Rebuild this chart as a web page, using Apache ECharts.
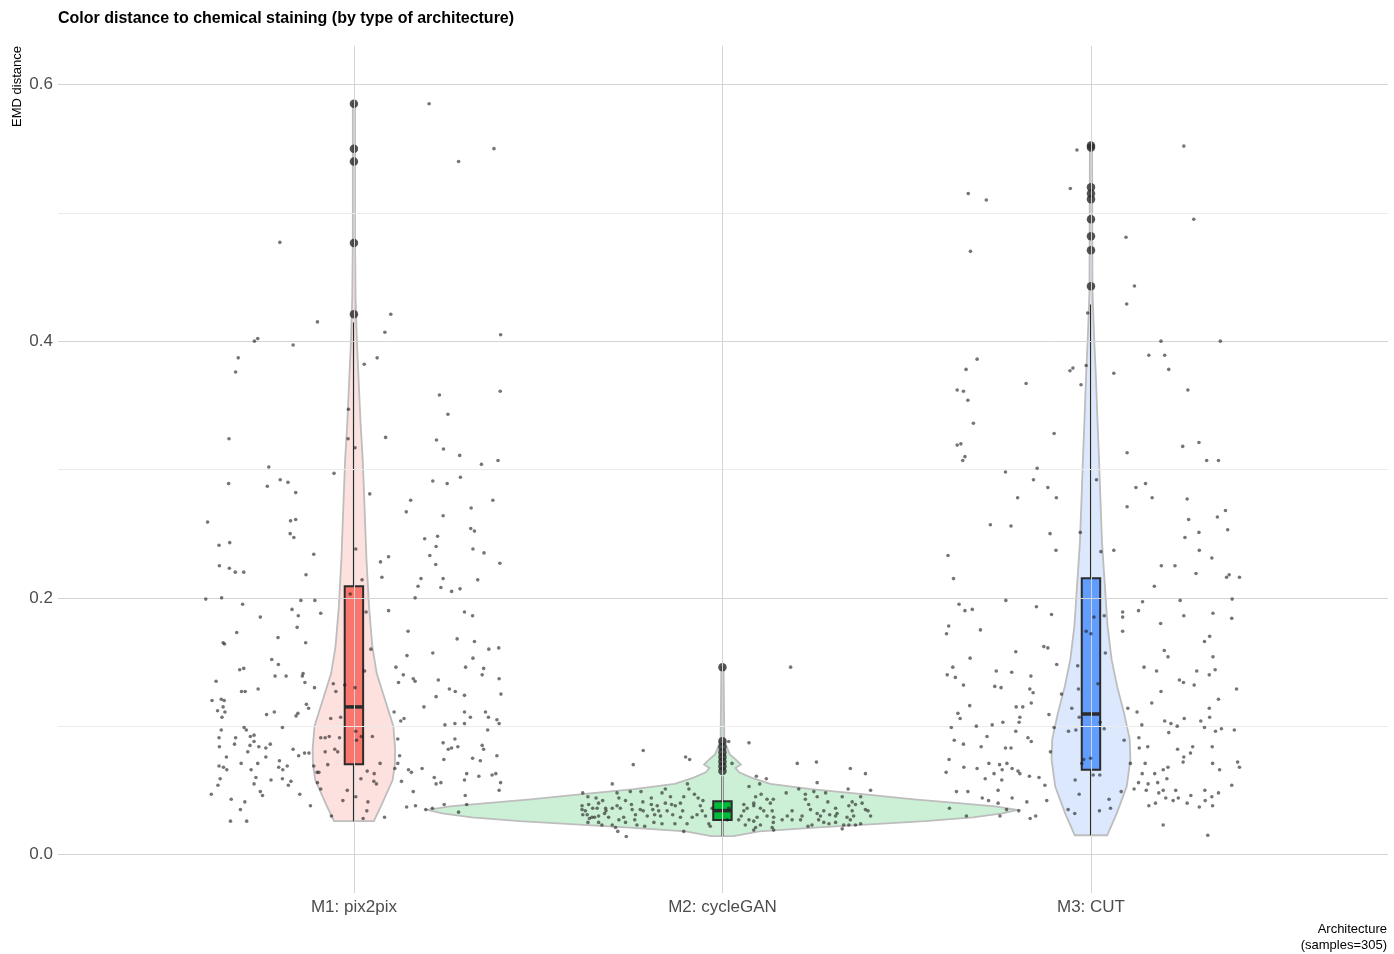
<!DOCTYPE html>
<html>
<head>
<meta charset="utf-8">
<title>Color distance to chemical staining</title>
<script src="https://cdn.jsdelivr.net/npm/echarts@6/dist/echarts.min.js"></script>
<style>
    html, body { margin: 0; padding: 0; background: #fff; }
    #main { width: 1394px; height: 954px; }
</style>
</head>
<body>
<div id="main"></div>
<script>
var categories = ['M1: pix2pix', 'M2: cycleGAN', 'M3: CUT'];
var boxColors = ['#F8766D', '#00BA38', '#619CFF'];
var violinColors = ['#fde1de', '#ccf0d6', '#dce8fd'];
var yTicks = [0, 0.2, 0.4, 0.6];
var yMinor = [0.1, 0.3, 0.5];

// whisker low, Q1, median, Q3, whisker high
var box1 = [0.026, 0.0704, 0.115, 0.209, 0.4145];
var box2 = [0.0143, 0.0268, 0.0342, 0.0415, 0.061];
var box3 = [0.015, 0.066, 0.1095, 0.2153, 0.4285];

var outliers1 = [0.421, 0.4765, 0.540, 0.550, 0.585];
var outliers2 = [0.065, 0.0687, 0.0724, 0.076, 0.0796, 0.0838, 0.0882, 0.146];
var outliers3 = [0.4428, 0.4708, 0.4817, 0.495, 0.5105, 0.515, 0.520, 0.551, 0.5525];

// violin outline: [EMD, half width]
var violin1 = [[0.026,0.054],[0.038,0.074],[0.058,0.105],[0.070,0.111],[0.082,0.112],[0.100,0.107],[0.121,0.084],
    [0.141,0.062],[0.162,0.050],[0.193,0.041],[0.230,0.034],[0.269,0.029],[0.307,0.024],[0.336,0.018],[0.362,0.014],
    [0.400,0.008],[0.434,0.0045],[0.450,0.004],[0.480,0.003],[0.585,0.003]];
var violin2 = [[0.0143,0.03],[0.018,0.10],[0.021,0.25],[0.0235,0.40],[0.026,0.55],[0.029,0.68],[0.032,0.76],
    [0.0347,0.80],[0.0375,0.74],[0.040,0.64],[0.043,0.52],[0.047,0.38],[0.051,0.24],[0.055,0.13],[0.0597,0.08],
    [0.064,0.045],[0.0675,0.035],[0.070,0.050],[0.073,0.04],[0.078,0.02],[0.085,0.01],[0.090,0.005],[0.146,0.003]];
var violin3 = [[0.015,0.044],[0.032,0.070],[0.053,0.097],[0.074,0.107],[0.090,0.105],[0.110,0.090],[0.131,0.071],
    [0.152,0.056],[0.178,0.045],[0.204,0.039],[0.243,0.030],[0.282,0.025],[0.307,0.022],[0.336,0.018],[0.375,0.013],
    [0.400,0.009],[0.427,0.0055],[0.440,0.004],[0.553,0.003]];

// jittered samples: [offset from category, EMD]
var points1 = [[0.204,0.585],[0.380,0.550],[0.284,0.540],[-0.201,0.477],[0.100,0.421],[-0.099,0.415],[0.084,0.407],[0.398,0.405],
    [-0.270,0.400],[-0.261,0.402],[-0.165,0.397],[-0.314,0.387],[-0.321,0.376],[0.063,0.387],[0.028,0.382],[0.232,0.358],
    [0.397,0.361],[0.255,0.343],[-0.015,0.347],[-0.016,0.324],[0.003,0.317],[0.086,0.325],[-0.339,0.324],[0.224,0.323],
    [0.243,0.316],[0.287,0.311],[0.346,0.304],[0.391,0.307],[-0.231,0.302],
    [-0.054,0.297],[-0.340,0.289],[-0.235,0.287],[-0.200,0.292],[-0.179,0.290],[-0.158,0.282],[-0.397,0.259],[-0.172,0.260],
    [-0.158,0.261],[-0.173,0.250],[-0.163,0.247],[-0.366,0.241],[-0.337,0.243],[-0.109,0.234],[-0.365,0.225],[-0.338,0.223],
    [-0.322,0.220],[-0.299,0.220],[-0.130,0.218],[-0.402,0.199],[-0.359,0.200],[-0.302,0.195],[-0.144,0.198],[-0.106,0.198],
    [-0.168,0.191],[-0.090,0.188],[-0.151,0.186],[-0.254,0.185],[-0.154,0.177],[-0.318,0.173],[-0.206,0.169],[-0.131,0.165],
    [-0.355,0.165],[-0.351,0.164],[-0.223,0.152],[-0.205,0.148],[-0.310,0.144],[-0.299,0.145],[-0.214,0.139],[-0.184,0.139],
    [-0.138,0.141],[-0.140,0.139],[-0.374,0.135],[-0.133,0.134],[-0.107,0.130],[-0.260,0.129],[-0.305,0.127],[-0.295,0.127],
    [-0.385,0.120],[-0.360,0.121],[-0.352,0.120],[-0.129,0.117],[-0.123,0.114],[-0.370,0.112],[-0.355,0.115],[-0.350,0.111],
    [-0.358,0.107],[-0.216,0.111],[-0.237,0.109],[-0.157,0.108],[-0.152,0.110],[-0.194,0.099],[-0.298,0.099],[-0.292,0.097],
    [-0.360,0.097],[-0.366,0.091],[-0.321,0.091],[-0.281,0.092],[-0.271,0.093],[-0.324,0.086],[-0.271,0.088],[-0.365,0.084],
    [-0.282,0.085],[-0.258,0.084],[-0.239,0.083],[-0.227,0.086],[-0.288,0.080],[-0.346,0.076],[-0.239,0.076],[-0.165,0.082],
    [-0.150,0.077],[-0.134,0.079],[-0.122,0.079],[-0.366,0.069],[-0.354,0.068],[-0.345,0.066],[-0.306,0.071],[-0.261,0.071],
    [-0.279,0.066],[-0.202,0.073],[-0.181,0.069],[-0.204,0.068],[-0.193,0.066],[-0.363,0.059],[-0.369,0.054],[-0.266,0.060],
    [-0.271,0.055],[-0.225,0.058],[-0.194,0.059],[-0.171,0.057],[-0.178,0.054],[-0.387,0.047],[-0.254,0.049],[-0.248,0.046],
    [-0.147,0.047],[-0.333,0.043],[-0.296,0.041],[-0.308,0.035],[-0.118,0.038],[-0.335,0.026],[-0.291,0.026],
    [0.043,0.281],[0.005,0.238],[0.022,0.214],[-0.010,0.203],[0.033,0.189],[0.094,0.190],[0.072,0.228],[0.094,0.232],
    [0.076,0.216],[0.046,0.160],[0.029,0.143],[-0.056,0.133],[-0.049,0.127],[-0.025,0.132],[0.003,0.130],[-0.063,0.106],
    [-0.036,0.107],[0.005,0.096],[0.007,0.089],[0.020,0.092],[0.050,0.092],[-0.090,0.091],[-0.078,0.091],[-0.067,0.092],
    [-0.039,0.091],[-0.078,0.080],[-0.052,0.082],[-0.044,0.080],[-0.109,0.069],[-0.071,0.070],[-0.100,0.064],[-0.095,0.064],
    [-0.099,0.056],[-0.090,0.051],[-0.018,0.050],[-0.030,0.042],[0.005,0.045],[0.019,0.059],[0.036,0.065],[0.055,0.063],
    [0.054,0.057],[0.061,0.055],[0.071,0.071],[0.038,0.041],[0.035,0.034],[0.025,0.028],[0.083,0.029],[-0.061,0.030],
    [0.214,0.291],[0.253,0.289],[0.289,0.294],[0.377,0.276],[0.154,0.276],[0.142,0.267],[0.242,0.264],[0.318,0.270],
    [0.317,0.254],[0.327,0.252],[0.192,0.246],[0.227,0.248],[0.223,0.240],[0.206,0.233],[0.222,0.226],[0.323,0.238],
    [0.353,0.235],[0.396,0.227],[0.182,0.215],[0.174,0.209],[0.242,0.215],[0.236,0.208],[0.265,0.205],[0.288,0.207],
    [0.336,0.214],[0.166,0.200],[0.300,0.189],[0.322,0.186],[0.147,0.174],[0.280,0.168],[0.327,0.166],[0.366,0.160],
    [0.393,0.161],[0.214,0.157],[0.144,0.155],[0.323,0.153],[0.114,0.146],[0.134,0.140],[0.121,0.134],[0.161,0.137],
    [0.166,0.135],[0.229,0.136],[0.303,0.146],[0.352,0.145],[0.348,0.140],[0.394,0.137],[0.259,0.129],[0.275,0.127],
    [0.223,0.123],[0.300,0.124],[0.399,0.125],[0.190,0.115],[0.109,0.111],[0.127,0.104],[0.136,0.106],[0.300,0.111],
    [0.316,0.107],[0.357,0.111],[0.365,0.107],[0.388,0.105],[0.394,0.102],[0.247,0.101],[0.274,0.102],[0.300,0.102],
    [0.363,0.097],[0.119,0.090],[0.242,0.087],[0.274,0.090],[0.256,0.082],[0.265,0.083],[0.282,0.084],[0.244,0.074],
    [0.348,0.085],[0.352,0.082],[0.388,0.077],[0.322,0.075],[0.343,0.073],[0.124,0.077],[0.119,0.071],[0.111,0.067],
    [0.148,0.066],[0.156,0.064],[0.185,0.067],[0.129,0.057],[0.218,0.060],[0.223,0.055],[0.236,0.056],[0.306,0.063],
    [0.300,0.058],[0.339,0.061],[0.375,0.062],[0.385,0.063],[0.398,0.056],[0.394,0.050],[0.161,0.049],[0.302,0.046],
    [0.143,0.037],[0.167,0.038],[0.195,0.035],[0.213,0.036],[0.245,0.039],[0.284,0.033],[0.306,0.039]];

var points2 = [[-0.215,0.081],[-0.242,0.070],[-0.100,0.076],[-0.089,0.074],[-0.299,0.055],[-0.095,0.055],[-0.379,0.048],
    [-0.365,0.045],[-0.286,0.048],[-0.281,0.044],[-0.250,0.049],[-0.221,0.049],[-0.155,0.051],[-0.164,0.048],[-0.193,0.044],
    [-0.141,0.045],[-0.091,0.051],[-0.105,0.045],[-0.076,0.047],[-0.066,0.044],[-0.053,0.042],[-0.343,0.044],[-0.325,0.042],
    [-0.381,0.038],[-0.381,0.035],[-0.372,0.034],[-0.363,0.039],[-0.352,0.036],[-0.340,0.036],[-0.336,0.040],[-0.317,0.036],
    [-0.316,0.034],[-0.320,0.032],[-0.379,0.031],[-0.367,0.031],[-0.361,0.028],[-0.354,0.029],[-0.347,0.029],[-0.336,0.030],
    [-0.365,0.025],[-0.336,0.025],[-0.327,0.023],[-0.309,0.029],[-0.299,0.036],[-0.286,0.038],[-0.277,0.036],[-0.263,0.042],
    [-0.299,0.023],[-0.290,0.021],[-0.284,0.018],[-0.261,0.014],[-0.281,0.027],[-0.268,0.029],[-0.263,0.025],[-0.247,0.039],
    [-0.245,0.035],[-0.236,0.031],[-0.238,0.027],[-0.232,0.023],[-0.223,0.035],[-0.216,0.041],[-0.215,0.034],[-0.204,0.030],
    [-0.211,0.022],[-0.193,0.039],[-0.189,0.035],[-0.184,0.031],[-0.186,0.025],[-0.177,0.038],[-0.173,0.034],[-0.168,0.030],
    [-0.164,0.024],[-0.155,0.040],[-0.150,0.034],[-0.138,0.039],[-0.135,0.031],[-0.129,0.024],[-0.128,0.038],[-0.114,0.040],
    [-0.108,0.034],[-0.114,0.029],[-0.096,0.024],[-0.105,0.018],[-0.082,0.029],[-0.069,0.031],[-0.060,0.038],[-0.055,0.034],
    [-0.046,0.030],[-0.037,0.024],[-0.033,0.022],[-0.028,0.036],
    [0.026,0.071],[0.092,0.061],[0.119,0.059],[0.203,0.071],[0.255,0.072],[0.347,0.067],[0.257,0.056],[0.388,0.063],
    [0.402,0.050],[0.341,0.051],[0.207,0.051],[0.248,0.049],[0.280,0.048],[0.072,0.053],[0.101,0.055],[0.105,0.047],
    [0.173,0.048],[0.225,0.047],[0.257,0.045],[0.090,0.045],[0.121,0.043],[0.138,0.043],[0.130,0.040],[0.225,0.043],
    [0.234,0.039],[0.286,0.041],[0.307,0.036],[0.325,0.045],[0.352,0.041],[0.343,0.038],[0.361,0.039],[0.379,0.040],
    [0.375,0.045],[0.388,0.035],[0.395,0.034],[0.402,0.030],[0.352,0.034],[0.356,0.030],[0.338,0.029],[0.347,0.027],
    [0.311,0.032],[0.307,0.030],[0.291,0.031],[0.275,0.034],[0.266,0.030],[0.257,0.032],[0.261,0.027],[0.239,0.035],
    [0.216,0.030],[0.212,0.027],[0.243,0.023],[0.232,0.022],[0.289,0.024],[0.307,0.025],[0.275,0.025],[0.329,0.023],
    [0.343,0.023],[0.361,0.023],[0.375,0.024],[0.325,0.020],[0.189,0.027],[0.162,0.027],[0.138,0.025],[0.135,0.021],
    [0.103,0.023],[0.085,0.026],[0.094,0.029],[0.072,0.027],[0.062,0.023],[0.044,0.027],[0.051,0.030],[0.058,0.034],
    [0.067,0.036],[0.085,0.038],[0.058,0.039],[0.085,0.040],[0.103,0.036],[0.112,0.034],[0.121,0.030],[0.135,0.034],
    [0.139,0.029],[0.176,0.030],[0.189,0.034],[0.090,0.021],[0.085,0.019],[0.139,0.019],[0.017,0.036],[0.013,0.027],
    [0.185,0.146],[0.072,0.087],[0.017,0.088]];

var points3 = [[-0.038,0.549],[0.252,0.552],[-0.333,0.515],[-0.284,0.510],[-0.056,0.519],[0.279,0.495],[-0.327,0.470],
    [0.095,0.481],[0.118,0.443],[0.097,0.429],[-0.009,0.422],[-0.309,0.386],[-0.339,0.378],[-0.057,0.377],[-0.049,0.379],
    [-0.013,0.381],[0.062,0.375],[0.190,0.400],[0.351,0.400],[0.157,0.389],[0.200,0.389],[0.211,0.378],[-0.176,0.367],
    [-0.027,0.366],[-0.363,0.362],[-0.346,0.361],[-0.334,0.354],[0.263,0.362],[-0.319,0.336],[-0.100,0.328],[-0.363,0.319],
    [-0.353,0.320],[-0.342,0.310],[-0.348,0.307],[-0.146,0.301],[0.098,0.313],[0.249,0.318],[0.293,0.321],[0.314,0.307],
    [0.346,0.307],
    [-0.232,0.298],[-0.156,0.292],[-0.117,0.286],[-0.199,0.278],[-0.094,0.278],[-0.273,0.257],[-0.217,0.256],[-0.111,0.250],
    [-0.095,0.237],[-0.388,0.233],[-0.373,0.215],[-0.029,0.251],[0.015,0.292],[0.027,0.236],[0.062,0.237],[0.122,0.286],
    [0.148,0.289],[0.166,0.278],[0.098,0.271],[0.261,0.277],[0.265,0.261],[0.365,0.268],[0.343,0.263],[0.371,0.253],
    [0.293,0.251],[0.255,0.247],[0.294,0.237],[0.328,0.231],[0.191,0.225],[0.228,0.225],[0.285,0.219],[0.368,0.216],
    [0.375,0.218],[0.403,0.216],[0.172,0.209],[0.140,0.197],[0.242,0.198],[0.383,0.199],[-0.358,0.195],[-0.342,0.190],
    [-0.322,0.191],[-0.231,0.198],[-0.148,0.193],[-0.107,0.187],[-0.386,0.178],[-0.392,0.172],[-0.300,0.175],[0.008,0.185],
    [0.036,0.186],[-0.013,0.174],[0.000,0.172],[0.086,0.189],[0.086,0.185],[0.086,0.174],[0.129,0.190],[0.189,0.180],
    [0.252,0.186],[0.331,0.188],[0.382,0.184],[0.322,0.170],[0.308,0.166],[-0.204,0.158],[-0.128,0.162],[-0.117,0.161],
    [0.039,0.157],[-0.328,0.153],[0.199,0.159],[0.209,0.154],[0.331,0.154],[-0.093,0.148],[-0.036,0.147],[0.144,0.146],
    [0.178,0.143],[0.287,0.143],[0.337,0.144],[0.321,0.140],[-0.390,0.140],[-0.375,0.146],[-0.368,0.138],[-0.257,0.143],
    [-0.215,0.142],[-0.163,0.139],[-0.346,0.132],[-0.261,0.131],[-0.244,0.130],[-0.166,0.129],[-0.157,0.126],[-0.080,0.125],
    [-0.034,0.129],[0.019,0.133],[0.240,0.136],[0.251,0.134],[0.280,0.132],[0.190,0.127],[0.395,0.129],[0.346,0.121],
    [-0.162,0.118],[-0.203,0.115],[-0.185,0.115],[-0.329,0.116],[-0.052,0.114],[-0.032,0.107],[0.165,0.118],[0.100,0.114],
    [0.125,0.111],[0.321,0.114],[0.322,0.107],[0.253,0.106],[0.200,0.104],[0.217,0.102],[0.298,0.104],[-0.361,0.110],
    [-0.355,0.106],[-0.114,0.109],[-0.193,0.107],[-0.195,0.103],[-0.239,0.103],[-0.268,0.101],[-0.311,0.100],[-0.379,0.099],
    [-0.100,0.099],[-0.061,0.096],[-0.041,0.097],[0.025,0.103],[0.036,0.098],[0.138,0.101],[0.234,0.100],[0.211,0.095],
    [0.308,0.099],[0.338,0.096],[0.354,0.098],[0.389,0.097],[-0.282,0.092],[-0.204,0.096],[-0.171,0.091],[-0.162,0.088],
    [-0.371,0.089],[-0.346,0.086],[-0.298,0.084],[-0.232,0.083],[-0.217,0.083],[-0.110,0.080],[0.090,0.089],[0.130,0.091],
    [0.154,0.084],[0.131,0.083],[0.235,0.082],[0.276,0.084],[0.270,0.079],[0.252,0.076],[0.250,0.072],[0.329,0.084],
    [0.330,0.071],[0.349,0.066],[0.398,0.072],[0.403,0.068],[-0.385,0.074],[-0.345,0.068],[-0.309,0.067],[-0.277,0.071],
    [-0.248,0.070],[-0.241,0.066],[-0.228,0.071],[-0.214,0.067],[-0.198,0.065],[-0.193,0.063],[-0.167,0.061],[-0.141,0.060],
    [-0.263,0.063],[-0.242,0.058],[-0.393,0.064],[-0.287,0.059],[-0.025,0.071],[-0.020,0.074],[-0.001,0.075],[0.006,0.062],
    [0.024,0.062],[0.107,0.071],[0.147,0.071],[0.139,0.063],[0.173,0.063],[0.196,0.066],[0.209,0.068],[0.206,0.059],
    [0.129,0.056],[0.155,0.055],[0.181,0.056],[0.117,0.051],[0.150,0.050],[0.184,0.048],[0.196,0.050],[0.230,0.050],
    [0.203,0.044],[0.223,0.042],[0.237,0.044],[0.261,0.040],[0.271,0.046],[0.294,0.037],[0.310,0.042],[0.328,0.045],
    [0.346,0.048],[0.330,0.038],[0.309,0.050],[0.382,0.054],[0.317,0.015],[0.196,0.023],[0.157,0.038],[0.175,0.040],
    [0.082,0.049],[0.049,0.043],[0.053,0.036],[0.023,0.034],[-0.043,0.058],[-0.032,0.047],[-0.062,0.035],[-0.044,0.032],
    [-0.125,0.054],[-0.120,0.042],[-0.252,0.050],[-0.214,0.044],[-0.174,0.041],[-0.252,0.040],[-0.278,0.042],[-0.295,0.044],
    [-0.334,0.049],[-0.365,0.049],[-0.165,0.028],[-0.150,0.030],[-0.196,0.034],[-0.229,0.035],[-0.247,0.030],[-0.338,0.030],
    [-0.384,0.036]];

var FONT = "'Liberation Sans', Arial, sans-serif";
var BOX_HW = 0.025;

var boxes = [box1, box2, box3];
var violins = [violin1, violin2, violin3];
var outliers = [outliers1, outliers2, outliers3];
var points = [points1, points2, points3];

function violinSeries(k) {
    var xc = k + 1;
    var profile = violins[k];
    return {
        type: 'custom',
        z: 2,
        silent: true,
        data: [[xc, profile[0][0]]],
        renderItem: function (params, api) {
            var pts = [];
            for (var i = 0; i < profile.length; i++) {
                pts.push(api.coord([xc + profile[i][1], profile[i][0]]));
            }
            for (var j = profile.length - 1; j >= 0; j--) {
                pts.push(api.coord([xc - profile[j][1], profile[j][0]]));
            }
            return {
                type: 'polygon',
                shape: {points: pts},
                style: {fill: violinColors[k], stroke: '#bdbdbd', lineWidth: 1.8}
            };
        }
    };
}

var boxData = boxes.map(function (b, k) {
    return [k + 1].concat(b);
});

var jitterData = [];
points.forEach(function (arr, k) {
    arr.forEach(function (p) {
        jitterData.push([k + 1 + p[0], p[1]]);
    });
});

var outlierData = [];
outliers.forEach(function (arr, k) {
    arr.forEach(function (v) {
        outlierData.push([k + 1, v]);
    });
});

var gridLines = [];
yTicks.forEach(function (v) {
    gridLines.push({yAxis: v, lineStyle: {color: '#d4d4d4', width: 1, type: 'solid'}});
});
yMinor.forEach(function (v) {
    gridLines.push({yAxis: v, lineStyle: {color: '#ebebeb', width: 1, type: 'solid'}});
});
categories.forEach(function (c, k) {
    gridLines.push({xAxis: k + 1, lineStyle: {color: '#d4d4d4', width: 1, type: 'solid'}});
});

var myChart = echarts.init(document.getElementById('main'));

var series = [{
    type: 'line',
    z: 1,
    silent: true,
    data: [],
    markLine: {
        silent: true,
        symbol: ['none', 'none'],
        label: {show: false},
        animation: false,
        data: gridLines
    }
}];
for (var k = 0; k < 3; k++) series.push(violinSeries(k));
series.push({
    type: 'custom',
    z: 3,
    silent: true,
    data: boxData,
    encode: {x: 0, y: [1, 2, 3, 4, 5]},
    renderItem: function (params, api) {
        var x = api.value(0);
        var lo = api.coord([x, api.value(1)]);
        var q1 = api.coord([x - BOX_HW, api.value(2)]);
        var med = api.coord([x - BOX_HW, api.value(3)]);
        var q3 = api.coord([x + BOX_HW, api.value(4)]);
        var hi = api.coord([x, api.value(5)]);
        return {
            type: 'group',
            children: [
                {type: 'line', shape: {x1: lo[0], y1: lo[1], x2: hi[0], y2: hi[1]},
                    style: {stroke: '#2b2b2b', lineWidth: 2}},
                {type: 'rect', shape: {x: q1[0], y: q3[1], width: q3[0] - q1[0], height: q1[1] - q3[1]},
                    style: {fill: boxColors[params.dataIndex], stroke: '#2b2b2b', lineWidth: 2}},
                {type: 'line', shape: {x1: med[0], y1: med[1], x2: q3[0], y2: med[1]},
                    style: {stroke: '#2b2b2b', lineWidth: 3.5}}
            ]
        };
    }
});
series.push({
    type: 'scatter',
    z: 4,
    silent: true,
    symbolSize: 8.5,
    itemStyle: {color: '#2b2b2b'},
    data: outlierData
});
series.push({
    type: 'scatter',
    z: 5,
    silent: true,
    symbolSize: 3.6,
    itemStyle: {color: 'rgba(25,25,25,0.75)'},
    data: jitterData
});

option = {
    animation: false,
    backgroundColor: '#ffffff',
    title: {
        text: 'Color distance to chemical staining (by type of architecture)',
        left: 53,
        top: 6,
        textStyle: {fontFamily: FONT, fontSize: 16, fontWeight: 'bold', color: '#000000'}
    },
    grid: {left: 58, right: 6, top: 46, bottom: 61},
    xAxis: {
        type: 'value',
        min: 0.197,
        max: 3.806,
        axisLine: {show: false},
        axisTick: {show: false},
        splitLine: {show: false},
        axisLabel: {
            customValues: [1, 2, 3],
            formatter: function (v) { return categories[Math.round(v) - 1]; },
            fontFamily: FONT,
            fontSize: 17,
            color: '#4d4d4d',
            margin: 6
        }
    },
    yAxis: {
        type: 'value',
        min: -0.03,
        max: 0.63,
        axisLine: {show: false},
        axisTick: {show: false},
        splitLine: {show: false},
        axisLabel: {
            customValues: yTicks,
            formatter: function (v) { return v.toFixed(1); },
            fontFamily: FONT,
            fontSize: 17,
            color: '#4d4d4d',
            margin: 5
        }
    },
    graphic: [
        {
            type: 'text',
            x: 17,
            y: 46,
            rotation: Math.PI / 2,
            style: {text: 'EMD distance', fontFamily: FONT, fontSize: 13, fill: '#000000',
                textAlign: 'right', textVerticalAlign: 'middle'}
        },
        {
            type: 'text',
            right: 7,
            top: 921,
            style: {text: 'Architecture\n(samples=305)', fontFamily: FONT, fontSize: 13, lineHeight: 16,
                fill: '#000000', textAlign: 'right'}
        }
    ],
    series: series
};
myChart.setOption(option);
</script>
</body>
</html>
